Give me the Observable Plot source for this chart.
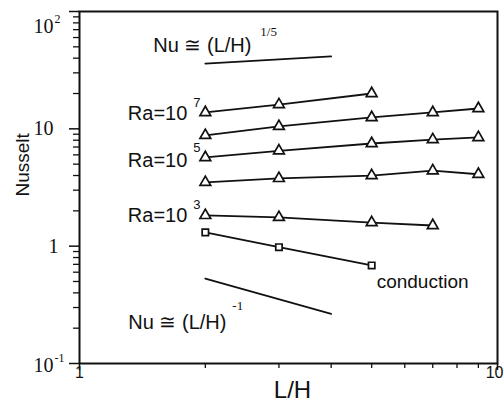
<!DOCTYPE html>
<html>
<head>
<meta charset="utf-8">
<script src="https://cdn.jsdelivr.net/npm/d3@7"></script>
<script src="https://cdn.jsdelivr.net/npm/@observablehq/plot@0.6"></script>
<style>
  html, body { margin: 0; padding: 0; background: #fff; }
  #chart { width: 504px; height: 411px; }
</style>
</head>
<body>
<div id="chart"></div>
<script>
// Aspect ratio L/H at which each Rayleigh number was computed
const lh = [2, 3, 5, 7, 9];

// Average Nusselt number, one list per Rayleigh number
const nuRa7 = [13.8, 16.1, 20.0];
const nuRa6 = [8.8, 10.5, 12.5, 13.8, 14.9];
const nuRa5 = [5.7, 6.5, 7.5, 8.1, 8.45];
const nuRa4 = [3.5, 3.78, 4.0, 4.4, 4.1];
const nuRa3 = [1.83, 1.76, 1.59, 1.5];
const nuConduction = [1.31, 0.98, 0.685];

// Slope guides: Nu ~ (L/H)^(1/5) and Nu ~ (L/H)^-1
const guideX = [2, 4];
const guideFifth = [36, 41.4];
const guideInverse = [0.53, 0.265];

// Axis ticks
const yTicks = [0.1, 1, 10, 100];
const yTickBase = ["10", "1", "10", "10"];
const yTickPow = ["-1", "", "", "2"];
const yMinor = [0.2, 0.3, 0.4, 0.5, 0.6, 0.7, 0.8, 0.9, 2, 3, 4, 5, 6, 7, 8, 9, 20, 30, 40, 50, 60, 70, 80, 90];
const xTicks = [1, 10];
const xTickText = ["1", "10"];
const xMinor = [2, 3, 4, 5, 6, 7, 8, 9];

const series = (ys, name) => ys.map((nu, i) => ({lh: lh[i], nu, name}));
const convective = [
  ...series(nuRa7, "Ra=1e7"),
  ...series(nuRa6, "Ra=1e6"),
  ...series(nuRa5, "Ra=1e5"),
  ...series(nuRa4, "Ra=1e4"),
  ...series(nuRa3, "Ra=1e3")
];
const conduction = series(nuConduction, "conduction");
const guides = [
  ...guideX.map((x, i) => ({lh: x, nu: guideFifth[i], name: "fifth"})),
  ...guideX.map((x, i) => ({lh: x, nu: guideInverse[i], name: "inverse"}))
];

const ink = "#111";
const sans = "Liberation Sans, Arial, Helvetica, sans-serif";
const serif = "Liberation Serif, Times New Roman, serif";

// Text placed next to a data point, offset in screen pixels
function note(x, y, text, o) {
  return Plot.text([0], {x: () => x, y: () => y, text: () => text, fill: ink, fontFamily: sans, fontSize: 20, ...o});
}

function yTickLabel(i, dx, dy) {
  const v = yTicks[i];
  return [
    Plot.text([v], {y: d => d, frameAnchor: "left", text: () => yTickBase[i], textAnchor: "end",
      dx, dy, fill: ink, fontFamily: serif, fontSize: 20}),
    yTickPow[i] ? Plot.text([v], {y: d => d, frameAnchor: "left", text: () => yTickPow[i], textAnchor: "start",
      dx: dx + 1, dy: dy - 7, fill: ink, fontFamily: serif, fontSize: 12}) : null
  ];
}

function xTickLabel(i, textAnchor, dx) {
  return Plot.text([xTicks[i]], {x: d => d, frameAnchor: "bottom", text: () => xTickText[i], textAnchor, dx, dy: 14,
    fill: ink, fontFamily: sans, fontSize: 16});
}

const chart = Plot.plot({
  width: 504,
  height: 411,
  marginLeft: 79,
  marginRight: 7,
  marginTop: 11,
  marginBottom: 48,
  x: {type: "log", domain: [1, 10]},
  y: {type: "log", domain: [0.1, 100]},
  style: {background: "#fff", color: ink},
  marks: [
    Plot.frame({stroke: ink, strokeWidth: 2}),
    Plot.axisY(yTicks, {tickSize: 10, fill: "none", stroke: ink, strokeWidth: 1.5}),
    Plot.axisY(yMinor, {tickSize: 6, fill: "none", stroke: ink, strokeWidth: 1.3}),
    Plot.axisX(xTicks, {tickSize: 7, fill: "none", stroke: ink, strokeWidth: 1.5}),
    Plot.axisX(xMinor, {tickSize: 5, fill: "none", stroke: ink, strokeWidth: 1.3}),

    yTickLabel(0, -26, 2),
    yTickLabel(1, -21, 0),
    yTickLabel(2, -26, 0),
    yTickLabel(3, -26, 15),
    xTickLabel(0, "middle", 0),
    xTickLabel(1, "end", 6),

    Plot.text(["Nusselt"], {frameAnchor: "left", rotate: -90, dx: -57, dy: 9,
      fill: ink, fontFamily: sans, fontSize: 19}),
    Plot.text(["L/H"], {frameAnchor: "bottom", dx: 4, dy: 34,
      fill: ink, fontFamily: sans, fontSize: 24}),

    Plot.line(guides, {x: "lh", y: "nu", z: "name", stroke: ink, strokeWidth: 1.8}),
    Plot.line(convective, {x: "lh", y: "nu", z: "name", stroke: ink, strokeWidth: 1.8}),
    Plot.line(conduction, {x: "lh", y: "nu", stroke: ink, strokeWidth: 1.8}),
    Plot.dot(convective, {x: "lh", y: "nu", symbol: "triangle", r: 4, fill: "#fff", stroke: ink, strokeWidth: 1.7}),
    Plot.dot(conduction, {x: "lh", y: "nu", symbol: "square", r: 3.6, fill: "#fff", stroke: ink, strokeWidth: 1.7}),

    note(lh[0], nuRa7[0], "Ra=10", {textAnchor: "end", dx: -18, dy: 1}),
    note(lh[0], nuRa7[0], "7", {textAnchor: "start", dx: -12, dy: -10, fontSize: 13}),
    note(lh[0], nuRa5[0], "Ra=10", {textAnchor: "end", dx: -18, dy: 3}),
    note(lh[0], nuRa5[0], "5", {textAnchor: "start", dx: -12, dy: -10, fontSize: 13}),
    note(lh[0], nuRa3[0], "Ra=10", {textAnchor: "end", dx: -18, dy: 0}),
    note(lh[0], nuRa3[0], "3", {textAnchor: "start", dx: -12, dy: -11, fontSize: 13}),
    note(lh[2], nuConduction[2], "conduction", {textAnchor: "start", dx: 5, dy: 16, fontSize: 19}),

    note(guideX[0], guideFifth[0], "Nu \u2245 (L/H)", {textAnchor: "start", dx: -52, dy: -18}),
    note(guideX[0], guideFifth[0], "1/5", {textAnchor: "start", dx: 55, dy: -32, fontFamily: serif, fontSize: 13}),
    note(guideX[0], guideInverse[0], "Nu \u2245 (L/H)", {textAnchor: "start", dx: -77, dy: 44}),
    note(guideX[0], guideInverse[0], "-1", {textAnchor: "start", dx: 27, dy: 27, fontFamily: serif, fontSize: 13})
  ]
});

document.getElementById("chart").append(chart);
</script>
</body>
</html>
